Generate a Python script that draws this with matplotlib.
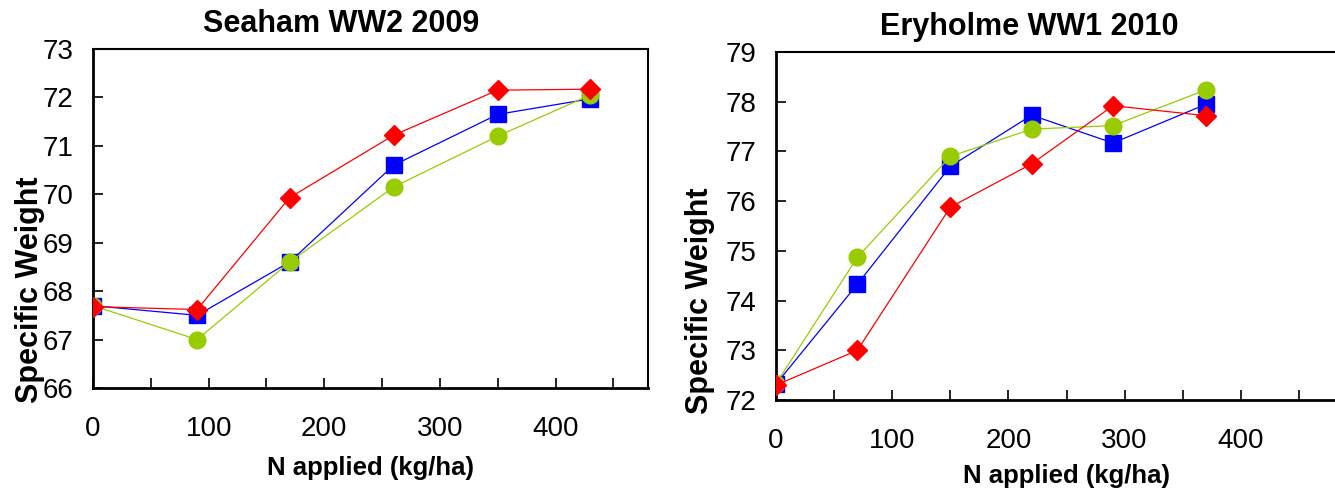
import matplotlib
matplotlib.use("Agg")
import matplotlib.pyplot as plt
from matplotlib.ticker import MultipleLocator

plt.rcParams['font.family'] = ['Liberation Sans', 'DejaVu Sans']

# Seaham WW2 2009
seaham_n = [0, 90, 170, 260, 350, 430]
seaham_blue = [67.70, 67.50, 68.60, 70.60, 71.65, 71.97]
seaham_green = [67.70, 67.00, 68.60, 70.15, 71.20, 72.05]
seaham_red = [67.68, 67.62, 69.93, 71.22, 72.15, 72.17]

# Eryholme WW1 2010
ery_n = [0, 70, 150, 220, 290, 370]
ery_blue = [72.32, 74.33, 76.70, 77.73, 77.17, 77.95]
ery_green = [72.33, 74.87, 76.90, 77.45, 77.52, 78.24]
ery_red = [72.30, 73.00, 75.88, 76.75, 77.92, 77.72]

fig = plt.figure(figsize=(13.35, 4.91), dpi=100)

def panel(rect, title, n, blue, green, red, ylim, xmax, title_xy, ylab_xy, xlab_y):
    ax = fig.add_axes(rect)
    ax.plot(n, blue, color='#0000FF', lw=0.9, marker='s', ms=11, mec='#0000FF', zorder=3)
    ax.plot(n, green, color='#99CC00', lw=0.9, marker='o', ms=12, mec='#99CC00', zorder=4)
    ax.plot(n, red, color='#FF0000', lw=0.9, marker='D', ms=10, mec='#FF0000', zorder=5)
    ax.set_xlim(0, xmax)
    ax.set_ylim(*ylim)
    ax.xaxis.set_minor_locator(MultipleLocator(50))
    ax.yaxis.set_major_locator(MultipleLocator(1))
    ax.set_xticks([0, 100, 200, 300, 400])
    ax.tick_params(axis='x', which='both', direction='in', length=7, width=1.2,
                   labelsize=20, pad=20, top=False)
    ax.tick_params(axis='y', which='both', direction='in', length=7, width=1.2,
                   labelsize=20, pad=14, right=False)
    for s in ['left', 'bottom']:
        ax.spines[s].set_linewidth(2)
    for s in ['top', 'right']:
        ax.spines[s].set_linewidth(1.5)
    ax.text(title_xy[0], title_xy[1], title, transform=ax.transAxes,
            fontsize=22, fontweight='bold', ha='center', va='center')
    ax.set_xlabel('N applied (kg/ha)', fontsize=18.5, fontweight='bold', va='center')
    ax.xaxis.set_label_coords(0.5, xlab_y)
    ax.set_ylabel('Specific Weight', fontsize=22, fontweight='bold', va='center')
    ax.yaxis.set_label_coords(ylab_xy[0], ylab_xy[1])
    return ax

panel([0.0697, 0.2098, 0.4157, 0.6904], 'Seaham WW2 2009',
      seaham_n, seaham_blue, seaham_green, seaham_red, (66, 73), 480,
      (0.447, 1.074), (-0.1135, 0.289), -0.236)
panel([0.5813, 0.1853, 0.4352, 0.7087], 'Eryholme WW1 2010',
      ery_n, ery_blue, ery_green, ery_red, (72, 79), 500,
      (0.435, 1.072), (-0.1306, 0.284), -0.218)

fig.savefig('out.png', dpi=100)
